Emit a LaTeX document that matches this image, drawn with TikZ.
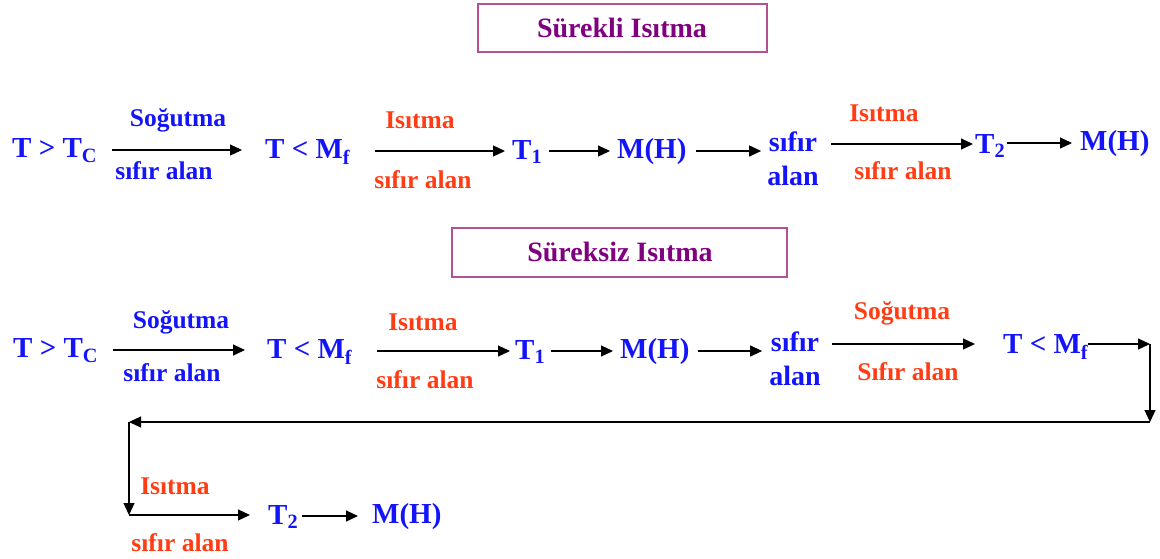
\documentclass[tikz,border=0pt]{standalone}
\usepackage{fontspec}
\setmainfont{Liberation Serif}
\usetikzlibrary{arrows.meta}
\definecolor{stateblue}{RGB}{20,20,250}
\definecolor{procorange}{RGB}{255,60,20}
\definecolor{titlepurple}{RGB}{128,0,128}
\definecolor{titleframe}{RGB}{180,80,150}
\tikzset{
  state/.style={anchor=west, inner sep=0pt, text=stateblue,
    font=\fontsize{29}{34}\selectfont\bfseries},
  zero/.style={inner sep=0pt, align=center, text=stateblue,
    font=\fontsize{28}{34}\selectfont\bfseries},
  lblue/.style={inner sep=0pt, text=stateblue,
    font=\fontsize{25.5}{30}\selectfont\bfseries},
  lorange/.style={inner sep=0pt, text=procorange,
    font=\fontsize{25.5}{30}\selectfont\bfseries},
  titlebox/.style={draw=titleframe, line width=1.2pt},
  titletext/.style={text=titlepurple, font=\fontsize{28}{32}\selectfont\bfseries},
  arr/.style={draw=black, line width=1.2pt, -{Triangle[length=12pt,width=11pt]}},
}
\begin{document}
\begin{tikzpicture}[x=1pt,y=-1pt]
\useasboundingbox (0,0) rectangle (1160,558);

% titles
\draw[titlebox] (478,4) rectangle (767,52);
\node[titletext] (t1) at (622,28) {Sürekli Isıtma};
\draw[titlebox] (452,228) rectangle (787,277);
\node[titletext] (t2) at (620,252) {Süreksiz Isıtma};

% continuous heating chain
\node[state] (a1) at (12,151) {T > T\textsubscript{C}};
\node[state] (a2) at (265,152) {T < M\textsubscript{f}};
\node[state] (a3) at (512,152) {T\textsubscript{1}};
\node[state] (a4) at (617,152) {M(H)};
\node[zero]  (a5) at (793,159) {sıfır\\alan};
\node[state] (a6) at (975,146) {T\textsubscript{2}};
\node[state] (a7) at (1080,144) {M(H)};

\draw[arr] ([xshift=15pt]a1.east |- 0,150) -- ([xshift=-23pt]a2.west |- 0,150);
\draw[arr] ([xshift=25pt]a2.east |- 0,151) -- ([xshift=-7pt]a3.west |- 0,151);
\draw[arr] ([xshift=7pt]a3.east |- 0,151) -- ([xshift=-7pt]a4.west |- 0,151);
\draw[arr] ([xshift=9pt]a4.east |- 0,151) -- ([xshift=-6pt]a5.west |- 0,151);
\draw[arr] ([xshift=12pt]a5.east |- 0,144) -- ([xshift=-2pt]a6.west |- 0,144);
\draw[arr] ([xshift=2pt]a6.east |- 0,143) -- ([xshift=-8pt]a7.west |- 0,143);

\node[lblue]   (l11) at (178,120) {Soğutma};
\node[lblue]   (l12) at (164,171) {sıfır alan};
\node[lorange] (l13) at (420,120) {Isıtma};
\node[lorange] (l14) at (423,180) {sıfır alan};
\node[lorange] (l15) at (884,113) {Isıtma};
\node[lorange] (l16) at (903,171) {sıfır alan};

% interrupted heating chain
\node[state] (b1) at (13,351) {T > T\textsubscript{C}};
\node[state] (b2) at (267,352) {T < M\textsubscript{f}};
\node[state] (b3) at (515,352) {T\textsubscript{1}};
\node[state] (b4) at (620,352) {M(H)};
\node[zero]  (b5) at (795,359) {sıfır\\alan};
\node[state] (b6) at (1003,347) {T < M\textsubscript{f}};
\coordinate (c1) at (1150,344);
\coordinate (c2) at (1150,422);
\coordinate (c3) at (129,422);
\coordinate (c4) at (129,515);
\node[state] (b7) at (268,517) {T\textsubscript{2}};
\node[state] (b8) at (372,517) {M(H)};

\draw[arr] ([xshift=15pt]b1.east |- 0,350) -- ([xshift=-22pt]b2.west |- 0,350);
\draw[arr] ([xshift=25pt]b2.east |- 0,351) -- ([xshift=-5pt]b3.west |- 0,351);
\draw[arr] ([xshift=6pt]b3.east |- 0,351) -- ([xshift=-7pt]b4.west |- 0,351);
\draw[arr] ([xshift=8pt]b4.east |- 0,351) -- ([xshift=-7pt]b5.west |- 0,351);
\draw[arr] ([xshift=11pt]b5.east |- 0,344) -- ([xshift=-28pt]b6.west |- 0,344);
\draw[arr] (b6.east |- c1) -- (c1);
\draw[arr] (c1) -- (c2);
\draw[arr] (c2) -- (c3);
\draw[arr] (c3) -- (c4);
\draw[arr] (c4) -- ([xshift=-18pt]b7.west |- c4);
\draw[arr] ([xshift=4pt]b7.east |- 0,516) -- ([xshift=-14pt]b8.west |- 0,516);

\node[lblue]   (m11) at (181,322) {Soğutma};
\node[lblue]   (m12) at (172,373) {sıfır alan};
\node[lorange] (m13) at (423,322) {Isıtma};
\node[lorange] (m14) at (425,380) {sıfır alan};
\node[lorange] (m15) at (902,313) {Soğutma};
\node[lorange] (m16) at (908,372) {Sıfır alan};
\node[lorange] (m17) at (175,486) {Isıtma};
\node[lorange] (m18) at (180,543) {sıfır alan};
\end{tikzpicture}
\end{document}
